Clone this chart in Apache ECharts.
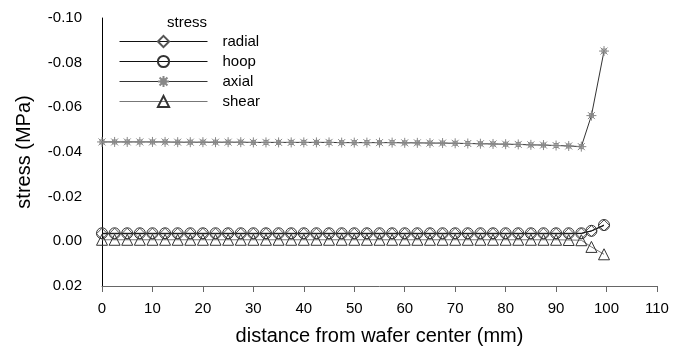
<!DOCTYPE html>
<html>
<head>
<meta charset="utf-8">
<script src="https://cdn.jsdelivr.net/npm/echarts@6/dist/echarts.min.js"></script>
<style>
	html, body { margin: 0; padding: 0; background: #fff; }
	#chartId { width: 678px; height: 351px; }
</style>
</head>
<body>
<div id="chartId"></div>
<script>
// distance from wafer center (mm)
var distData = [0, 2.5, 5, 7.5, 10, 12.5, 15, 17.5, 20, 22.5, 25, 27.5, 30, 32.5, 35, 37.5, 40, 42.5, 45, 47.5,
	50, 52.5, 55, 57.5, 60, 62.5, 65, 67.5, 70, 72.5, 75, 77.5, 80, 82.5, 85, 87.5, 90, 92.5, 95, 97, 99.5];
// stress (MPa)
var radialData = [-0.0034, -0.0034, -0.0034, -0.0034, -0.0034, -0.0034, -0.0034, -0.0034, -0.0034, -0.0034,
	-0.0034, -0.0034, -0.0034, -0.0034, -0.0034, -0.0034, -0.0034, -0.0034, -0.0034, -0.0034,
	-0.0034, -0.0034, -0.0034, -0.0034, -0.0034, -0.0034, -0.0034, -0.0034, -0.0034, -0.0034,
	-0.0034, -0.0034, -0.0034, -0.0034, -0.0034, -0.0034, -0.0034, -0.0034, -0.0035, -0.0046, -0.0071];
var hoopData = [-0.0036, -0.0036, -0.0036, -0.0036, -0.0036, -0.0036, -0.0036, -0.0036, -0.0036, -0.0036,
	-0.0036, -0.0036, -0.0036, -0.0036, -0.0036, -0.0036, -0.0036, -0.0036, -0.0036, -0.0036,
	-0.0036, -0.0036, -0.0036, -0.0036, -0.0036, -0.0036, -0.0036, -0.0036, -0.0036, -0.0036,
	-0.0036, -0.0036, -0.0036, -0.0036, -0.0036, -0.0036, -0.0036, -0.0036, -0.0036, -0.0047, -0.0073];
var axialData = [-0.0445, -0.0445, -0.0445, -0.0445, -0.0445, -0.0445, -0.0444, -0.0444, -0.0444, -0.0444,
	-0.0444, -0.0444, -0.0443, -0.0443, -0.0443, -0.0443, -0.0443, -0.0443, -0.0443, -0.0442,
	-0.0442, -0.0442, -0.0442, -0.0442, -0.0441, -0.0441, -0.0440, -0.0440, -0.0439, -0.0438,
	-0.0437, -0.0436, -0.0435, -0.0434, -0.0432, -0.0431, -0.0429, -0.0427, -0.0424, -0.0563, -0.0852];
var shearData = [-0.0007, -0.0007, -0.0007, -0.0007, -0.0007, -0.0007, -0.0007, -0.0007, -0.0007, -0.0007,
	-0.0007, -0.0007, -0.0007, -0.0007, -0.0007, -0.0007, -0.0007, -0.0007, -0.0007, -0.0007,
	-0.0007, -0.0007, -0.0007, -0.0007, -0.0007, -0.0007, -0.0007, -0.0007, -0.0007, -0.0007,
	-0.0007, -0.0007, -0.0007, -0.0007, -0.0007, -0.0007, -0.0007, -0.0006, -0.0005, 0.0025, 0.0058];
var seriesNames = ["radial", "hoop", "axial", "shear"];

var starPath = "path://M0,-10L0,10M-10,0L10,0M-7,-7L7,7M-7,7L7,-7M-4,-4L4,-4L4,4L-4,4Z";

function toPairs(ys) {
	var arr = [];
	for(var i = 0; i < distData.length; i++) {
		arr.push([distData[i], ys[i]]);
	}
	return arr;
}

function makeSeries(name, ys, symbol, size, lineColor, markColor) {
	return {
		name: name,
		type: "line",
		data: toPairs(ys),
		symbol: symbol,
		symbolSize: size,
		showAllSymbol: true,
		animation: false,
		lineStyle: { color: lineColor, width: 1 },
		itemStyle: { color: "rgba(255,255,255,0)", borderColor: markColor, borderWidth: 1 }
	};
}

var myChart = echarts.init(document.getElementById("chartId"));
var fontName = "Liberation Sans, Arial, sans-serif";
var option = {
	backgroundColor: "#fff",
	animation: false,
	grid: { left: 102, right: 21, top: 18, bottom: 65 },
	graphic: [{
		type: "text",
		left: 167,
		top: 15,
		style: { text: "stress", fontSize: 15, fontFamily: fontName, fill: "#000" }
	}],
	legend: {
		orient: "vertical",
		left: 119,
		top: 34,
		padding: 0,
		itemWidth: 88,
		itemHeight: 14,
		itemGap: 5,
		data: seriesNames,
		lineStyle: { width: 1 },
		textStyle: { fontSize: 15, fontFamily: fontName, color: "#000", padding: [0, 0, 0, 10] }
	},
	xAxis: {
		type: "value",
		min: 0,
		max: 110,
		interval: 10,
		name: "distance from wafer center (mm)",
		nameLocation: "middle",
		nameGap: 40,
		nameTextStyle: { fontSize: 20, fontFamily: fontName, color: "#000" },
		axisLine: { show: true, onZero: false, lineStyle: { color: "#666", width: 1 } },
		axisTick: { show: true, inside: false, length: 6, lineStyle: { color: "#666" } },
		axisLabel: { fontSize: 15, fontFamily: fontName, color: "#000", margin: 15 },
		splitLine: { show: false }
	},
	yAxis: {
		type: "value",
		inverse: true,
		min: -0.1,
		max: 0.02,
		interval: 0.02,
		name: "stress (MPa)",
		nameLocation: "middle",
		nameRotate: 90,
		nameGap: 68,
		nameTextStyle: { fontSize: 20, fontFamily: fontName, color: "#000" },
		axisLine: { show: true, onZero: false, lineStyle: { color: "#000", width: 1 } },
		axisTick: { show: false },
		axisLabel: {
			fontSize: 15,
			fontFamily: fontName,
			color: "#000",
			margin: 20,
			formatter: function(v) { return v.toFixed(2); }
		},
		splitLine: { show: false }
	},
	series: [
		makeSeries("radial", radialData, "diamond", 11, "#111", "#555"),
		makeSeries("hoop", hoopData, "circle", 11, "#111", "#333"),
		makeSeries("axial", axialData, starPath, 10, "#333", "#888"),
		makeSeries("shear", shearData, "triangle", 11, "#777", "#333")
	]
};
myChart.setOption(option);
</script>
</body>
</html>
